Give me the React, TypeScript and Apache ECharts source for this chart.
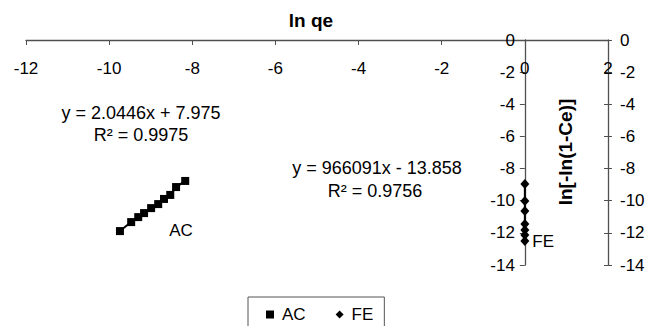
import React, { useEffect, useRef } from "react";
import * as echarts from "echarts";

// AC series (ln qe, ln[-ln(1-Ce)])
const acX = [-9.74, -9.47, -9.3, -9.16, -8.99, -8.82, -8.68, -8.53, -8.39, -8.17];
const acY = [-11.89, -11.33, -11.02, -10.77, -10.46, -10.21, -9.89, -9.64, -9.15, -8.77];
// FE series
const feX = [5.1e-6, 4.0e-6, 3.4e-6, 2.5e-6, 2.1e-6, 1.8e-6, 1.4e-6];
const feY = [-8.96, -10.02, -10.64, -11.45, -11.82, -12.13, -12.51];

const xMin = -12;
const xMax = 2;
const xStep = 2;
const yMin = -14;
const yMax = 0;
const yStep = 2;

const seriesNames = ["AC", "FE"];
const xTitle = "ln qe";
const yTitle = "ln[-ln(1-Ce)]";
const eqAC = ["y = 2.0446x + 7.975", "R² = 0.9975"];
const eqFE = ["y = 966091x - 13.858", "R² = 0.9756"];

const FONT = "'Liberation Sans', Arial, sans-serif";
const AXIS = "#505050";

const W = 664;
const GRID_LEFT = 26;
const GRID_RIGHT = 56;

export default function App() {
  const ref = useRef<HTMLDivElement>(null);
  useEffect(() => {
    if (!ref.current) return;
    const chart = echarts.init(ref.current, undefined, { renderer: "svg" });
    const plotW = W - GRID_LEFT - GRID_RIGHT;
    // place the primary y axis where x = 0 (axis crossing)
    const zeroOffset = -plotW * ((0 - xMin) / (xMax - xMin));
    const txt = (text: string, x: number, y: number, extra: any = {}) => ({
      type: "text",
      x,
      y,
      style: {
        text,
        fontFamily: FONT,
        fontSize: 18,
        fill: "#000",
        align: "center",
        verticalAlign: "middle",
        ...(extra.style || {}),
      },
      ...(extra.el || {}),
    });
    chart.setOption({
      animation: false,
      backgroundColor: "#fff",
      grid: { left: GRID_LEFT, right: GRID_RIGHT, top: 40, bottom: 61, containLabel: false },
      xAxis: {
        type: "value",
        position: "top",
        min: xMin,
        max: xMax,
        interval: xStep,
        axisLine: { onZero: false, lineStyle: { color: AXIS, width: 1.3 } },
        axisTick: { show: true, inside: true, length: 5, lineStyle: { color: AXIS } },
        axisLabel: { inside: true, margin: 20, color: "#000", fontSize: 17, fontFamily: FONT },
        splitLine: { show: false },
      },
      yAxis: [
        {
          type: "value",
          position: "left",
          offset: zeroOffset,
          min: yMin,
          max: yMax,
          interval: yStep,
          axisLine: { show: true, onZero: false, lineStyle: { color: AXIS, width: 1.3 } },
          axisTick: { show: true, inside: false, length: 5, lineStyle: { color: AXIS } },
          axisLabel: { margin: 10, color: "#000", fontSize: 17, fontFamily: FONT },
          splitLine: { show: false },
        },
        {
          type: "value",
          position: "right",
          min: yMin,
          max: yMax,
          interval: yStep,
          axisLine: { show: true, onZero: false, lineStyle: { color: AXIS, width: 1.3 } },
          axisTick: { show: true, inside: false, length: 4, lineStyle: { color: AXIS } },
          axisLabel: { margin: 12, color: "#000", fontSize: 17, fontFamily: FONT },
          splitLine: { show: false },
        },
        {
          type: "value",
          position: "right",
          min: yMin,
          max: yMax,
          interval: yStep,
          axisLine: { show: false, onZero: false },
          axisTick: { show: true, inside: true, length: 4, lineStyle: { color: AXIS } },
          axisLabel: { show: false },
          splitLine: { show: false },
        },
      ],
      legend: {
        left: 248,
        top: 297,
        orient: "horizontal",
        padding: [9, 11, 9, 18],
        itemGap: 30,
        itemWidth: 8,
        itemHeight: 8,
        borderColor: "#555",
        borderWidth: 1,
        textStyle: { color: "#000", fontSize: 17, fontFamily: FONT, padding: [0, 0, 0, 3] },
        data: [
          { name: seriesNames[0], icon: "rect" },
          { name: seriesNames[1], icon: "diamond" },
        ],
      },
      series: [
        {
          name: seriesNames[0],
          type: "line",
          data: acX.map((x, i) => [x, acY[i]]),
          symbol: "rect",
          symbolSize: 8,
          itemStyle: { color: "#000" },
          lineStyle: { color: "#000", width: 2 },
        },
        {
          name: seriesNames[1],
          type: "line",
          data: feX.map((x, i) => ({
            value: [x, feY[i]],
            label:
              i === feX.length - 1
                ? { show: true, position: "right", distance: 3, formatter: seriesNames[1], color: "#000", fontSize: 17, fontFamily: FONT }
                : { show: false },
          })),
          symbol: "diamond",
          symbolSize: [9, 10],
          itemStyle: { color: "#000" },
          lineStyle: { color: "#000", width: 2 },
        },
      ],
      graphic: [
        txt(xTitle, 311, 20, { style: { fontWeight: "bold", fontSize: 19 } }),
        txt(yTitle, 565, 152, { style: { fontWeight: "bold", fontSize: 19 }, el: { rotation: Math.PI / 2 } }),
        txt(eqAC[0], 141, 113),
        txt(eqAC[1], 141, 135),
        txt(eqFE[0], 377, 168),
        txt(eqFE[1], 375, 191),
        txt(seriesNames[0], 181, 230, { style: { fontSize: 17 } }),
      ],
    });
    return () => chart.dispose();
  }, []);
  return <div ref={ref} style={{ width: 664, height: 326, position: "absolute", left: 0, top: 0 }} />;
}
